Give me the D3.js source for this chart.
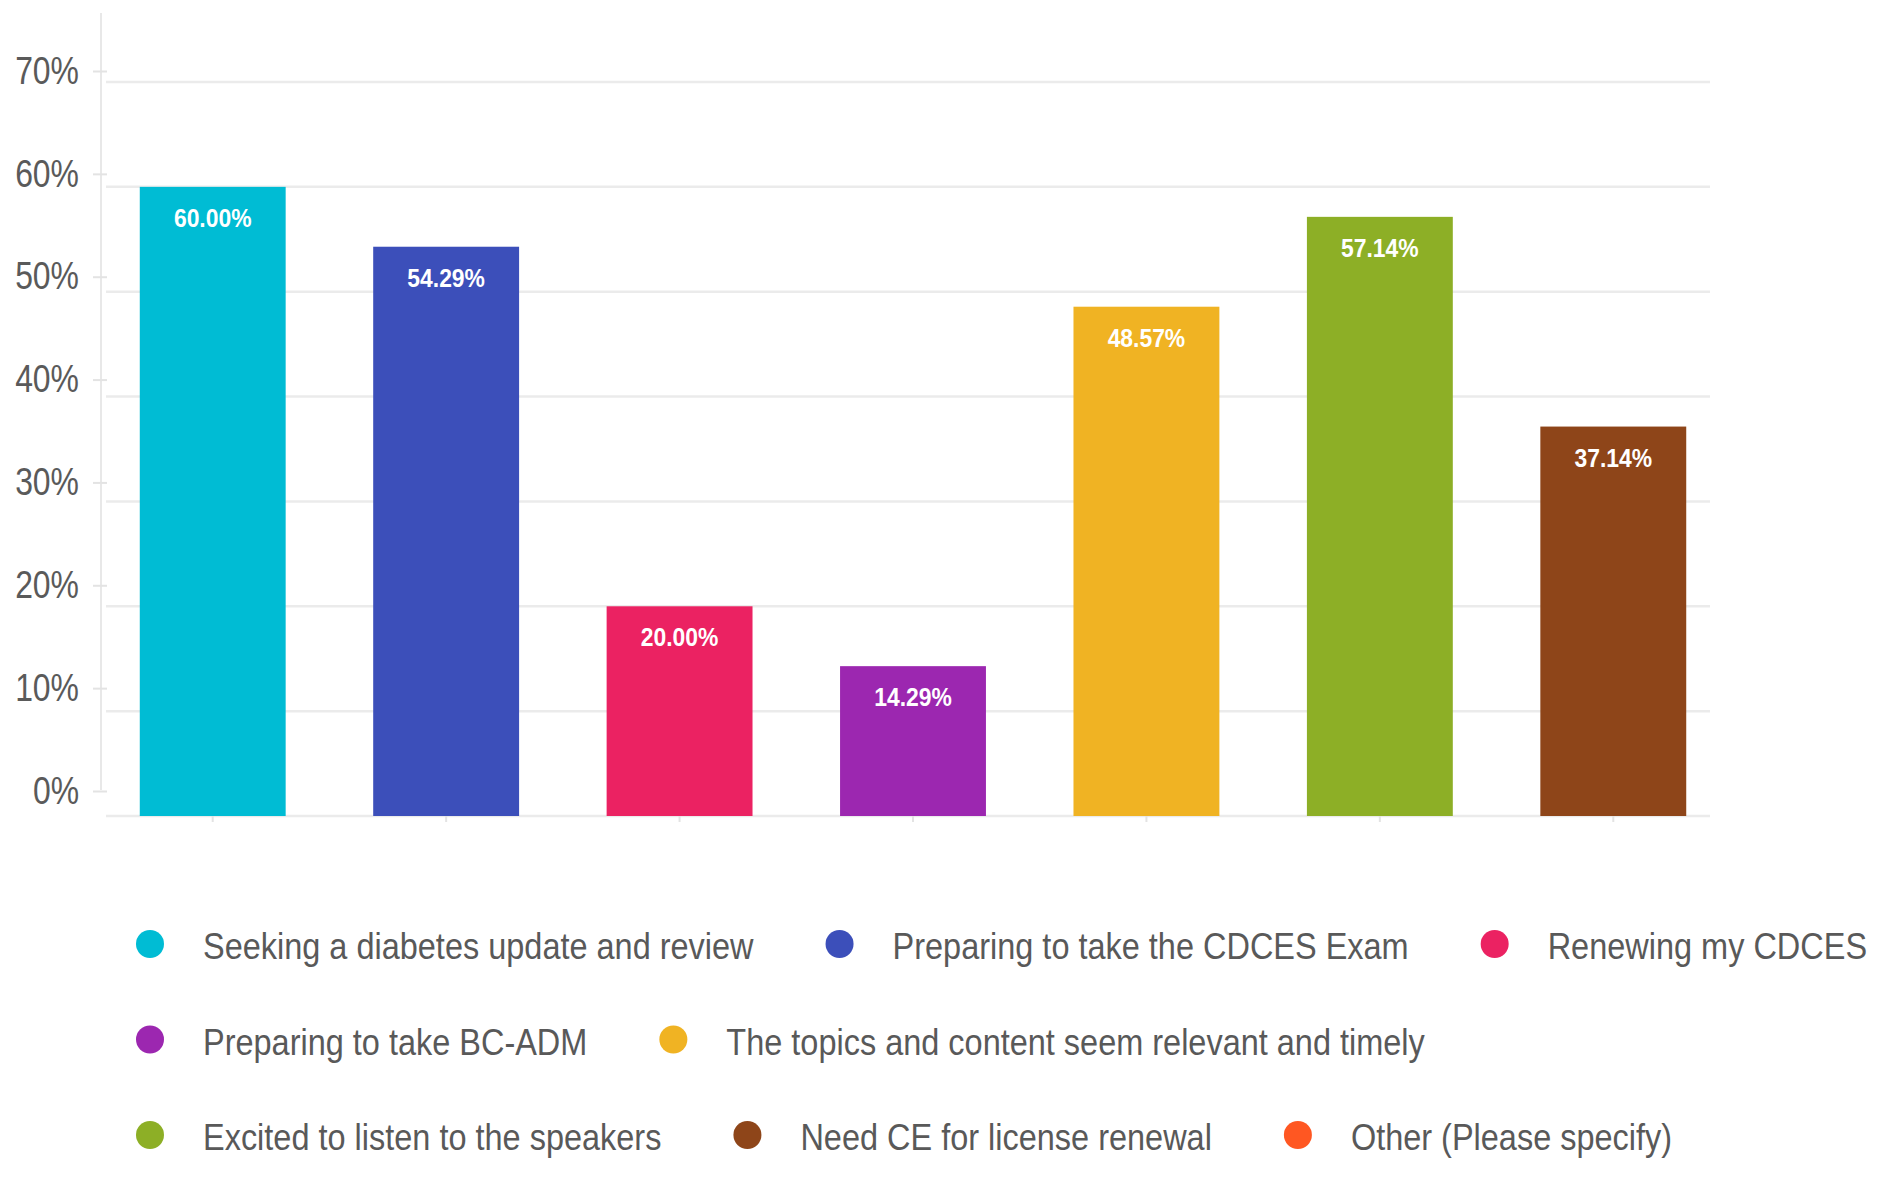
<!DOCTYPE html>
<html>

<head>
    <meta charset="utf-8">
    <script src="https://d3js.org/d3.v7.min.js"></script>
    <style>
        body {
            margin: 0;
            background-color: #ffffff;
            font-family: "Liberation Sans", Arial, sans-serif;
        }

        .grid line {
            stroke: #ebebeb;
            stroke-width: 2.5px;
        }

        .axis path {
            display: none;
        }

        .axis line {
            stroke: #e3e3e3;
            stroke-width: 2px;
        }

        .axis--y text {
            font-size: 38px;
            fill: #5a5a5a;
        }

        .bar-label {
            font-size: 26px;
            font-weight: bold;
            fill: #ffffff;
        }

        .legend text {
            font-size: 37px;
            fill: #595959;
        }
    </style>
</head>

<body>
    <svg width="1893" height="1184"></svg>
    <script>
        // answers shown as bars
        var categories = [
            "Seeking a diabetes update and review",
            "Preparing to take the CDCES Exam",
            "Renewing my CDCES",
            "Preparing to take BC-ADM",
            "The topics and content seem relevant and timely",
            "Excited to listen to the speakers",
            "Need CE for license renewal"
        ];
        var values = [60.00, 54.29, 20.00, 14.29, 48.57, 57.14, 37.14];
        var colors = ["#00bcd4", "#3c4fba", "#eb2262", "#9c27b0", "#f0b323", "#8daf26", "#8e4519"];

        // legend has one extra entry with no bar
        var extraLegend = ["Other (Please specify)"];
        var extraColors = ["#ff5722"];

        var yTicks = [0, 10, 20, 30, 40, 50, 60, 70];

        var svg = d3.select("svg");

        var x = d3.scaleBand()
            .domain(categories)
            .range([96, 1730])
            .paddingInner(0.375)
            .paddingOuter(0.1875);

        var y = d3.scaleLinear().domain([0, 70]).range([816, 82]);
        // labels in the picture sit a little above their gridlines
        var yLab = d3.scaleLinear().domain([0, 70]).range([791, 71]);

        // gridlines
        svg.append("g")
            .attr("class", "grid")
            .selectAll("line")
            .data(yTicks)
            .enter().append("line")
            .attr("x1", 106)
            .attr("x2", 1710)
            .attr("y1", function (d) { return y(d); })
            .attr("y2", function (d) { return y(d); });

        // faint y axis line
        svg.append("line")
            .attr("x1", 101).attr("x2", 101)
            .attr("y1", 13).attr("y2", 790)
            .attr("stroke", "#e8e8e8")
            .attr("stroke-width", 2);

        var yAxis = svg.append("g")
            .attr("class", "axis axis--y")
            .attr("transform", "translate(107,0)")
            .call(d3.axisLeft(yLab).tickValues(yTicks).tickSize(14).tickPadding(14)
                .tickFormat(function (d) { return d + "%"; }));

        yAxis.selectAll("text")
            .attr("x", 0)
            .attr("transform", "translate(-28,0) scale(0.84,1)");

        svg.append("g")
            .attr("class", "axis axis--x")
            .attr("transform", "translate(0,816)")
            .call(d3.axisBottom(x).tickSize(6).tickFormat(""));

        var rows = categories.map(function (c, i) {
            return { name: c, value: values[i], color: colors[i] };
        });

        svg.append("g")
            .selectAll("rect")
            .data(rows)
            .enter().append("rect")
            .attr("x", function (d) { return x(d.name); })
            .attr("y", function (d) { return y(d.value); })
            .attr("width", x.bandwidth())
            .attr("height", function (d) { return y(0) - y(d.value); })
            .attr("fill", function (d) { return d.color; });

        svg.append("g")
            .selectAll("text")
            .data(rows)
            .enter().append("text")
            .attr("class", "bar-label")
            .attr("text-anchor", "middle")
            .attr("transform", function (d) {
                return "translate(" + (x(d.name) + x.bandwidth() / 2) + "," + (y(d.value) + 40) + ") scale(0.88,1)";
            })
            .text(function (d) { return d.value.toFixed(2) + "%"; });

        // legend, laid out left to right and wrapped
        var legendItems = categories.concat(extraLegend).map(function (c, i) {
            return { name: c, color: colors.concat(extraColors)[i] };
        });

        var legend = svg.append("g").attr("class", "legend");
        var sx = 0.878,
            startX = 150,
            rowY = 944,
            rowStep = 95.5,
            maxX = 1890;
        var cx = startX, cy = rowY;

        legendItems.forEach(function (d) {
            var g = legend.append("g");
            g.append("circle")
                .attr("r", 14)
                .attr("fill", d.color);
            var t = g.append("text")
                .attr("transform", "translate(53,15) scale(" + sx + ",1)")
                .text(d.name);
            var w = 53 + t.node().getComputedTextLength() * sx;
            if (cx !== startX && cx + w > maxX) {
                cx = startX;
                cy += rowStep;
            }
            g.attr("transform", "translate(" + cx + "," + cy + ")");
            cx += w + 86;
        });
    </script>
</body>

</html>
